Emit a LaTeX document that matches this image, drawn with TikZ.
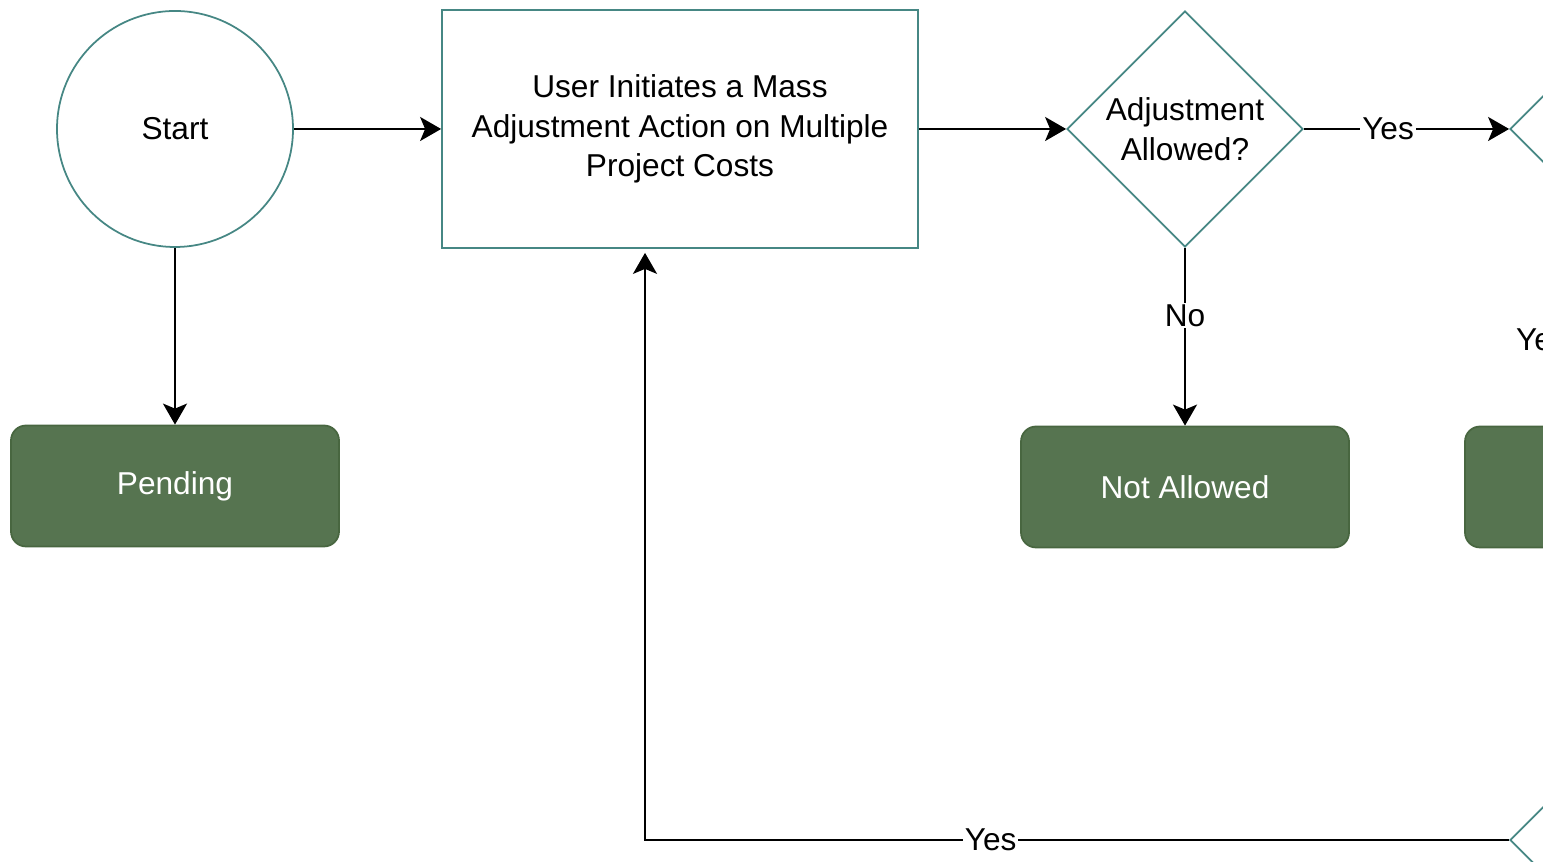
\documentclass[tikz,border=0pt]{standalone}
\usepackage{fontspec}
\setmainfont{Liberation Sans}
\usetikzlibrary{shapes.geometric,arrows.meta}
\definecolor{flowteal}{RGB}{70,135,132}
\definecolor{flowgreen}{RGB}{86,116,80}
\definecolor{flowgreenline}{RGB}{72,102,64}
\tikzset{startnode/.style={circle, draw=flowteal, line width=1pt, minimum size=4.72cm, inner sep=0pt},
	process/.style={rectangle, draw=flowteal, line width=1pt, minimum width=9.52cm, minimum height=4.76cm, align=center},
	decision/.style={diamond, draw=flowteal, line width=1pt, minimum width=4.72cm, minimum height=4.72cm, inner sep=0pt},
	status/.style={rectangle, rounded corners=0.3cm, fill=flowgreen, draw=flowgreenline, line width=1pt, minimum width=6.56cm, minimum height=2.42cm, text=white},
	flow/.style={-{Stealth[length=0.42cm,width=0.48cm,inset=0.1cm]}, line width=1.3pt},
	answer/.style={fill=white, inner sep=1pt}}

\begin{document}
\begin{tikzpicture}[font=\fontsize{18}{22.5}\selectfont]
	% field
	\clip (0,0) rectangle (30.86,17.24);
	
	% shapes
	\node[startnode] (start) at (3.5,14.66) {Start};
	\node[process] (initiate) at (13.6,14.66) {User Initiates a Mass\\Adjustment Action on Multiple\\Project Costs};
	\node[decision, label={[align=center]center:Adjustment\\Allowed?}] (allowed) at (23.7,14.66) {};
	\node[decision] (next) at (32.56,14.66) {};
	\node[decision] (again) at (32.56,0.44) {};
	
	% states
	\node[status] (pending) at (3.5,7.52) {Pending};
	\node[status] (notallowed) at (23.7,7.5) {Not Allowed};
	\node[status] (other) at (32.58,7.5) {};
	\node (yesright) at (30.84,10.44) {Yes};
	
	% arrows
	\draw[flow] (start) -- (initiate);
	\draw[flow] (initiate) -- (allowed);
	\draw[flow] (allowed) -- node[answer, pos=.41] {Yes} (next);
	\draw[flow] (start) -- (pending);
	\draw[flow] (allowed) -- node[answer, pos=.38] {No} (notallowed);
	\draw[flow, shorten >=0.08cm] (again.west) -| node[answer, pos=.3] {Yes} ([xshift=-0.7cm]initiate.south);
\end{tikzpicture}
\end{document}
